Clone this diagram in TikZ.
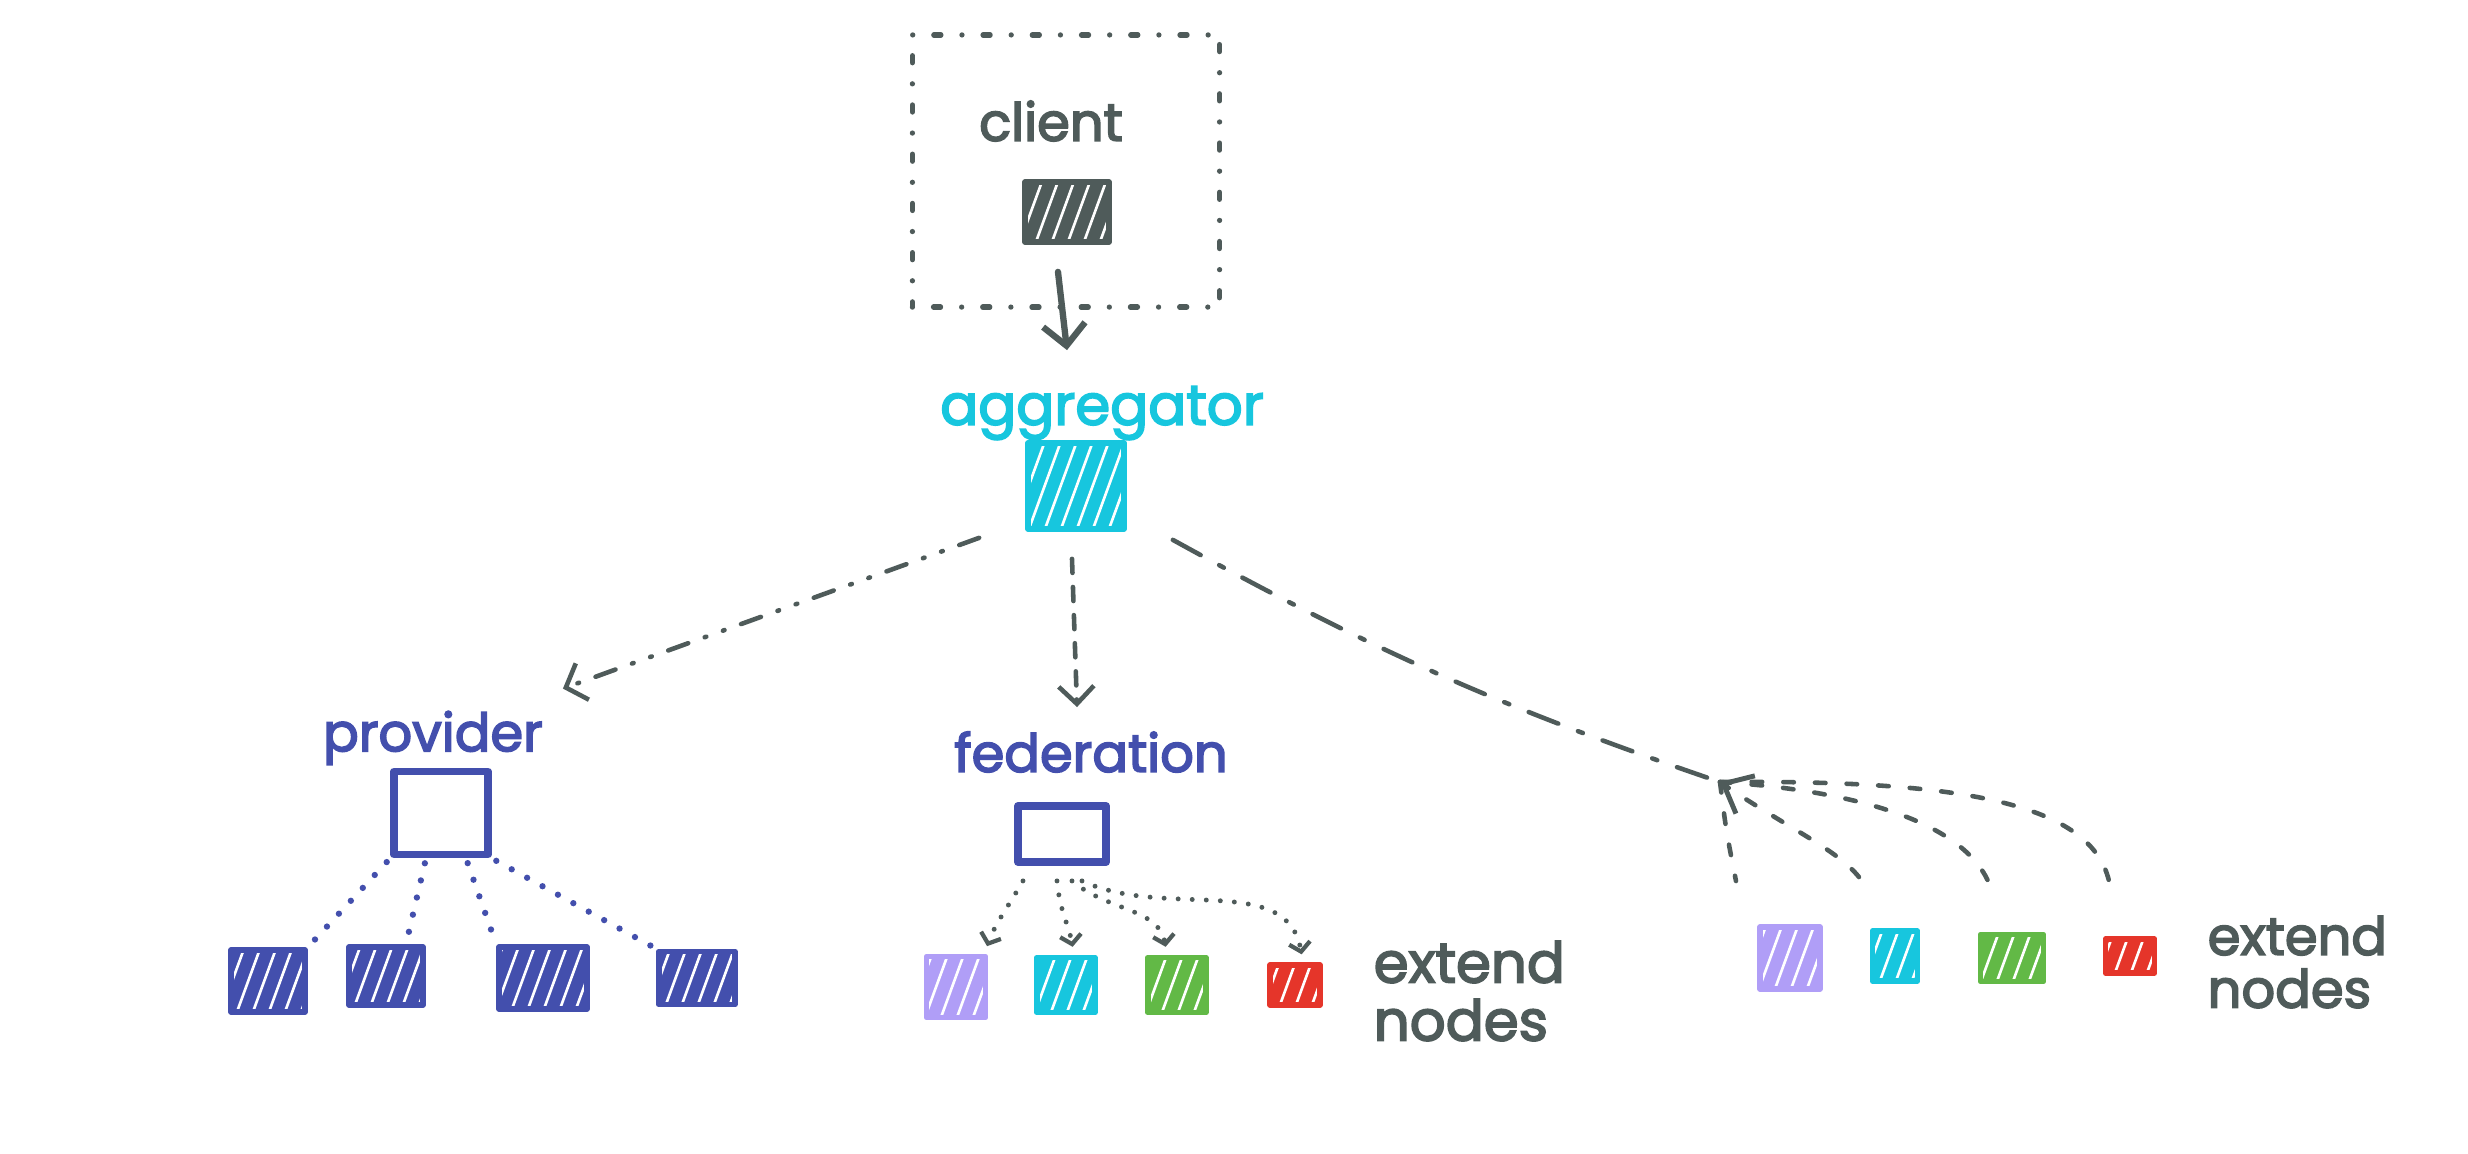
\documentclass[tikz,border=0pt]{standalone}
\usepackage{fontspec}
\setmainfont{Poppins}
\newfontfamily\hand{Poppins}[FakeBold=3]
\usetikzlibrary{arrows.meta,calc}
\definecolor{inkdark}{RGB}{79,91,90}
\definecolor{inkcyan}{RGB}{23,198,222}
\definecolor{inkblue}{RGB}{67,79,173}
\definecolor{inkpurple}{RGB}{176,158,247}
\definecolor{inkgreen}{RGB}{98,185,70}
\definecolor{inkred}{RGB}{229,53,42}
\tikzset{
  hatchsq/.style={draw=#1, fill=#1, line width=1.6pt, line join=round, inner sep=0pt,
    path picture={\foreach \k in {-1.3,-1.14,...,0.8}{\draw[white,line width=0.75pt] ([xshift=\k cm,yshift=-0.08cm]path picture bounding box.south) -- ++(0.42cm,1.15cm);}}},
  plainsq/.style={draw=inkblue, fill=white, line width=2.2pt, line join=round, inner sep=0pt},
  lbl/.style={inner sep=0pt, text=#1, align=left},
  framedot/.style={draw=inkdark, line width=1.5pt, line cap=round, dash pattern=on 0pt off 6pt on 2pt off 6pt, inner sep=0pt},
  solidarrow/.style={draw=inkdark, line width=1.8pt, line cap=round, -{Straight Barb[length=6pt,width=12pt,line width=1.8pt]}},
  dashdot/.style={draw=inkdark, line width=1.3pt, line cap=round, dash pattern=on 6pt off 5pt on 0.5pt off 5pt on 0.5pt off 5pt, -{Straight Barb[length=5pt,width=11pt,line width=1.3pt]}},
  vdash/.style={draw=inkdark, line width=1.3pt, line cap=round, dash pattern=on 4pt off 4pt, -{Straight Barb[length=5pt,width=10pt,line width=1.3pt]}},
  longdash/.style={draw=inkdark, line width=1.3pt, line cap=round, dash pattern=on 9pt off 6pt on 1.5pt off 6pt},
  jdash/.style={draw=inkdark, line width=1.3pt, line cap=round, dash pattern=on 3pt off 6pt},
  provdot/.style={draw=inkblue, line width=1.8pt, line cap=round, dash pattern=on 0pt off 5pt, shorten <=0.05cm, shorten >=0.06cm},
  feddot/.style={draw=inkdark, line width=1.4pt, line cap=round, dash pattern=on 0pt off 4pt, -{Straight Barb[length=2.5pt,width=6pt,line width=1.2pt]}},
  tipline/.style={draw=inkdark, line width=1.4pt, -{Straight Barb[length=7pt,width=12pt,line width=1.4pt]}}
}
\begin{document}
\begin{tikzpicture}[x=0.01cm,y=-0.01cm]
\fill[white] (0,0) rectangle (2468,1153);
\useasboundingbox (0,0) rectangle (2468,1153);

% client
\node[framedot, minimum width=3.07cm, minimum height=2.72cm] (clientframe) at (1066,171) {};
\node[lbl=inkdark, font=\hand\fontsize{15}{15}\selectfont] (clientlbl) at (1051,121) {client};
\node[hatchsq=inkdark, minimum width=0.84cm, minimum height=0.6cm] (clientsq) at (1067,212) {};

% aggregator
\node[lbl=inkcyan, font=\hand\fontsize{16}{16}\selectfont] (agglbl) at (1102,413) {aggregator};
\node[hatchsq=inkcyan, minimum width=0.96cm, minimum height=0.86cm] (aggsq) at (1076,486) {};

\draw[solidarrow] ([xshift=-0.09cm,yshift=-0.27cm]clientsq.south) -- ([xshift=-0.09cm,yshift=0.9cm]aggsq.north);

% provider
\node[lbl=inkblue, font=\hand\fontsize{15}{15}\selectfont] (provlbl) at (433,738) {provider};
\node[plainsq, minimum width=0.94cm, minimum height=0.83cm] (provbox) at (441,813) {};
\node[hatchsq=inkblue, minimum width=0.74cm, minimum height=0.62cm] (pc1) at (268,981) {};
\node[hatchsq=inkblue, minimum width=0.74cm, minimum height=0.58cm] (pc2) at (386,976) {};
\node[hatchsq=inkblue, minimum width=0.88cm, minimum height=0.62cm] (pc3) at (543,978) {};
\node[hatchsq=inkblue, minimum width=0.76cm, minimum height=0.53cm] (pc4) at (697,978) {};

\draw[dashdot] ([xshift=-0.46cm,yshift=-0.06cm]aggsq.south west) -- ([xshift=0.71cm,yshift=0.79cm]provbox.north east);

\draw[provdot] (provbox.south west) -- (pc1.north east);
\draw[provdot] ([xshift=-0.15cm]provbox.south) -- ([xshift=0.2cm]pc2.north);
\draw[provdot] ([xshift=0.25cm]provbox.south) -- (pc3.north west);
\draw[provdot] (provbox.south east) -- (pc4.north west);

% federation
\node[lbl=inkblue, font=\hand\fontsize{15}{15}\selectfont] (fedlbl) at (1091,752) {federation};
\node[plainsq, minimum width=0.88cm, minimum height=0.56cm] (fedbox) at (1062,834) {};
\node[hatchsq=inkpurple, minimum width=0.59cm, minimum height=0.61cm] (fc1) at (956,987) {};
\node[hatchsq=inkcyan, minimum width=0.58cm, minimum height=0.55cm] (fc2) at (1066,985) {};
\node[hatchsq=inkgreen, minimum width=0.58cm, minimum height=0.55cm] (fc3) at (1177,985) {};
\node[hatchsq=inkred, minimum width=0.5cm, minimum height=0.4cm] (fc4) at (1295,985) {};
\node[lbl=inkdark, font=\hand\fontsize{16}{16.5}\selectfont, anchor=west] (ext1) at (1373,991) {extend\\nodes};

\draw[vdash] ([xshift=-0.04cm,yshift=-0.27cm]aggsq.south) -- ([xshift=0.15cm,yshift=0.95cm]fedbox.north);

\draw[feddot, shorten >=0.08cm] ([xshift=-0.39cm,yshift=-0.15cm]fedbox.south) to[out=-120,in=70] ([xshift=-0.04cm]fc1.north east);
\draw[feddot, shorten >=0.08cm] ([xshift=-0.05cm,yshift=-0.15cm]fedbox.south) to[out=-85,in=100] ([xshift=0.08cm]fc2.north);
\draw[feddot, shorten >=0.08cm] ([xshift=0.1cm,yshift=-0.15cm]fedbox.south) to[out=-40,in=100] ([xshift=-0.1cm]fc3.north);
\draw[feddot, shorten >=0.08cm] ([xshift=0.2cm,yshift=-0.15cm]fedbox.south) to[out=-25,in=100] ([xshift=0.08cm]fc4.north);

% right group
\coordinate (J) at (1720,782);
\coordinate (Jb) at (1726,785);
\coordinate (e1) at (1736,881);
\coordinate (e2) at (1862,881);
\coordinate (e3) at (1988,881);
\coordinate (e4) at (2109,881);
\node[hatchsq=inkpurple, minimum width=0.6cm, minimum height=0.62cm] (rc1) at (1790,958) {};
\node[hatchsq=inkcyan, minimum width=0.45cm, minimum height=0.5cm] (rc2) at (1895,956) {};
\node[hatchsq=inkgreen, minimum width=0.63cm, minimum height=0.47cm] (rc3) at (2012,958) {};
\node[hatchsq=inkred, minimum width=0.49cm, minimum height=0.34cm] (rc4) at (2130,956) {};
\node[lbl=inkdark, font=\hand\fontsize{15}{15}\selectfont, anchor=west] (ext2) at (2207,962) {extend\\nodes};

\draw[longdash] ([xshift=0.46cm,yshift=-0.08cm]aggsq.south east) to[bend right=5] (J);
\draw[tipline] (Jb) -- (J);
\draw[jdash] (J) .. controls (1726,830) .. (e1);
\draw[jdash] (J) .. controls (1790,830) and (1840,850) .. (e2);
\draw[jdash] (J) .. controls (1850,790) and (1960,820) .. (e3);
\draw[jdash] (J) .. controls (1950,780) and (2090,800) .. (e4);
\end{tikzpicture}
\end{document}
